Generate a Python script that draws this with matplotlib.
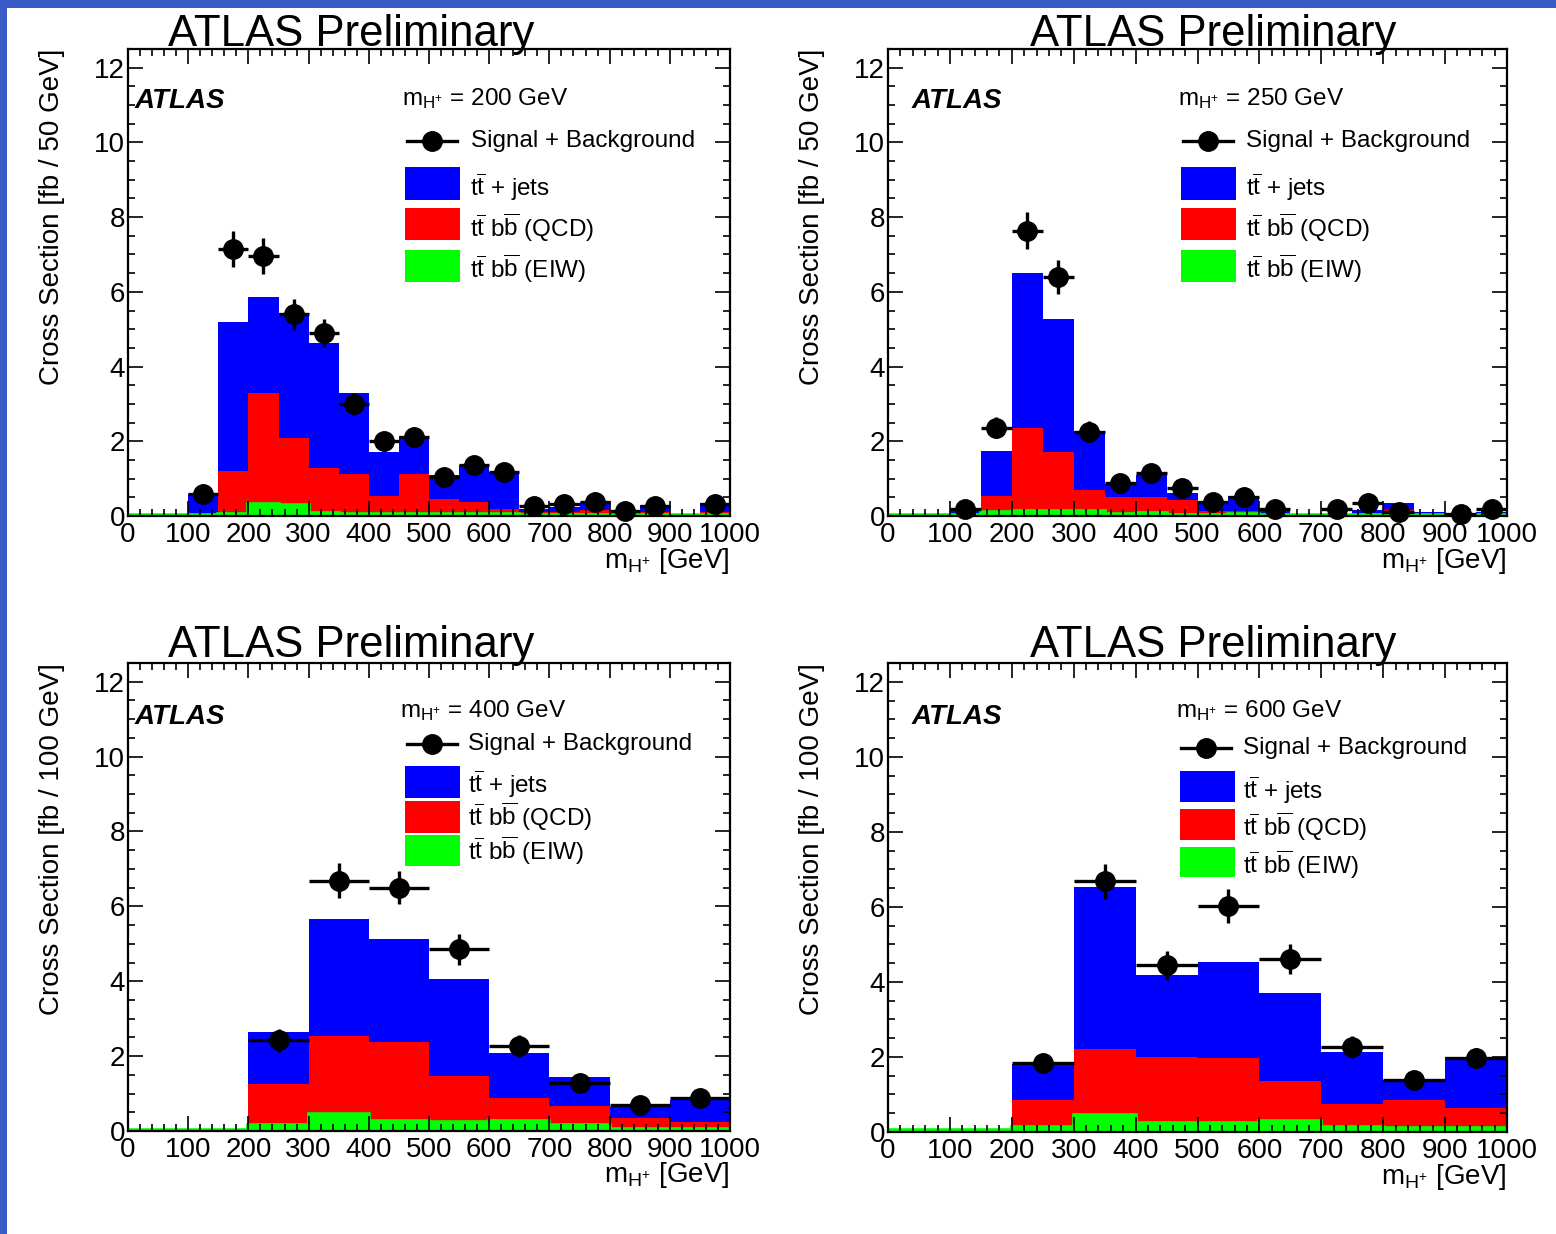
import numpy as np
import matplotlib
matplotlib.use("Agg")
import matplotlib.pyplot as plt
from matplotlib.patches import Rectangle
from matplotlib.lines import Line2D
from matplotlib.ticker import MultipleLocator

plt.rcParams['font.family'] = ['Liberation Sans', 'DejaVu Sans']
plt.rcParams['mathtext.fontset'] = 'custom'
plt.rcParams['mathtext.rm'] = 'Liberation Sans'
plt.rcParams['mathtext.it'] = 'Liberation Sans:italic'
plt.rcParams['mathtext.bf'] = 'Liberation Sans:bold'

W, H = 1556, 1234

# bin edges in GeV
edges_50 = np.arange(0, 1001, 50)
edges_100 = np.arange(0, 1001, 100)

# m(H+) = 200 GeV, 50 GeV bins
ewk_200 = [0.03, 0.03, 0.03, 0.05, 0.31, 0.29, 0.09, 0.05, 0.05, 0.05,
           0.05, 0.06, 0.05, 0.04, 0.04, 0.04, 0.03, 0.04, 0.03, 0.04]
qcd_200 = [0.0, 0.0, 0.02, 1.15, 2.97, 1.80, 1.20, 1.08, 0.49, 1.08,
           0.40, 0.32, 0.13, 0.08, 0.08, 0.11, 0.02, 0.08, 0.0, 0.08]
ttjets_200 = [0.0, 0.0, 0.55, 3.98, 2.57, 3.34, 3.33, 2.17, 1.17, 1.00,
              0.65, 0.98, 1.00, 0.08, 0.13, 0.22, 0.05, 0.18, 0.01, 0.22]
sig_200 = [np.nan, np.nan, 0.58, 7.15, 6.95, 5.40, 4.90, 3.00, 2.00, 2.12,
           1.05, 1.37, 1.18, 0.27, 0.32, 0.37, 0.13, 0.28, np.nan, 0.33]
sig_err_200 = [0, 0, 0.20, 0.48, 0.48, 0.42, 0.38, 0.30, 0.25, 0.26,
               0.18, 0.20, 0.19, 0.09, 0.10, 0.11, 0.06, 0.09, 0, 0.10]

# m(H+) = 250 GeV, 50 GeV bins
ewk_250 = [0.03, 0.03, 0.03, 0.10, 0.13, 0.13, 0.13, 0.06, 0.08, 0.04,
           0.04, 0.05, 0.04, 0.03, 0.03, 0.04, 0.04, 0.04, 0.03, 0.04]
qcd_250 = [0.0, 0.0, 0.02, 0.44, 2.22, 1.57, 0.57, 0.46, 0.44, 0.38,
           0.09, 0.08, 0.03, 0.02, 0.0, 0.04, 0.11, 0.01, 0.0, 0.02]
ttjets_250 = [0.0, 0.0, 0.13, 1.19, 4.15, 3.56, 1.57, 0.33, 0.58, 0.20,
              0.23, 0.40, 0.13, 0.0, 0.0, 0.09, 0.21, 0.07, 0.0, 0.04]
sig_250 = [np.nan, np.nan, 0.18, 2.36, 7.64, 6.39, 2.25, 0.88, 1.15, 0.76,
           0.38, 0.50, 0.19, np.nan, 0.19, 0.35, 0.10, np.nan, 0.05, 0.19]
sig_err_250 = [0, 0, 0.10, 0.28, 0.49, 0.45, 0.28, 0.17, 0.20, 0.16,
               0.12, 0.14, 0.08, 0, 0.08, 0.11, 0.06, 0, 0.04, 0.08]

# m(H+) = 400 GeV, 100 GeV bins
ewk_400 = [0.04, 0.04, 0.16, 0.45, 0.27, 0.24, 0.26, 0.16, 0.06, 0.06]
qcd_400 = [0.0, 0.0, 1.10, 2.10, 2.12, 1.24, 0.63, 0.51, 0.28, 0.19]
ttjets_400 = [0.0, 0.0, 1.38, 3.12, 2.74, 2.58, 1.19, 0.78, 0.31, 0.58]
sig_400 = [np.nan, np.nan, 2.42, 6.68, 6.50, 4.85, 2.27, 1.29, 0.70, 0.88]
sig_err_400 = [0, 0, 0.30, 0.47, 0.45, 0.41, 0.30, 0.22, 0.16, 0.18]

# m(H+) = 600 GeV, 100 GeV bins
ewk_600 = [0.06, 0.06, 0.12, 0.44, 0.23, 0.23, 0.29, 0.12, 0.10, 0.10]
qcd_600 = [0.0, 0.0, 0.74, 1.77, 1.78, 1.73, 1.06, 0.63, 0.76, 0.55]
ttjets_600 = [0.0, 0.0, 0.96, 4.31, 2.17, 2.58, 2.36, 1.38, 0.53, 1.36]
sig_600 = [np.nan, np.nan, 1.83, 6.68, 4.44, 6.02, 4.61, 2.27, 1.39, 1.97]
sig_err_600 = [0, 0, 0.26, 0.47, 0.38, 0.45, 0.40, 0.30, 0.22, 0.27]

x_ticks = np.arange(0, 1001, 100)
y_ticks = np.arange(0, 13, 2)

# layout in pixels: axes box, title, ATLAS label, legend anchor rows
panels = [
    dict(mass=200, edges=edges_50, ewk=ewk_200, qcd=qcd_200, tt=ttjets_200,
         sig=sig_200, err=sig_err_200, ylab='Cross Section [fb / 50 GeV]',
         box=(128, 49, 730, 516), title=(168, 46), atlas=(135, 108),
         mlab=(402, 105), sig_row=(407, 141, 471),
         boxes=(405, [(167, 200), (208, 240), (250, 282)], 470, [196, 237, 278]),
         xlab_y=568),
    dict(mass=250, edges=edges_50, ewk=ewk_250, qcd=qcd_250, tt=ttjets_250,
         sig=sig_250, err=sig_err_250, ylab='Cross Section [fb / 50 GeV]',
         box=(888, 49, 1507, 516), title=(1030, 46), atlas=(912, 108),
         mlab=(1178, 105), sig_row=(1183, 141, 1246),
         boxes=(1181, [(167, 200), (208, 240), (250, 282)], 1246, [196, 237, 278]),
         xlab_y=568),
    dict(mass=400, edges=edges_100, ewk=ewk_400, qcd=qcd_400, tt=ttjets_400,
         sig=sig_400, err=sig_err_400, ylab='Cross Section [fb / 100 GeV]',
         box=(128, 663, 730, 1131), title=(168, 657), atlas=(135, 724),
         mlab=(400, 717), sig_row=(407, 744, 468),
         boxes=(405, [(766, 798), (801, 833), (835, 866)], 468, [793, 826, 860]),
         xlab_y=1182),
    dict(mass=600, edges=edges_100, ewk=ewk_600, qcd=qcd_600, tt=ttjets_600,
         sig=sig_600, err=sig_err_600, ylab='Cross Section [fb / 100 GeV]',
         box=(888, 663, 1507, 1132), title=(1030, 657), atlas=(912, 724),
         mlab=(1176, 717), sig_row=(1181, 748, 1243),
         boxes=(1180, [(771, 802), (809, 840), (847, 877)], 1243, [799, 836, 874]),
         xlab_y=1184),
]

BLUE, RED, GREEN = '#0000ff', '#ff0000', '#00ff00'
proc_colors = [BLUE, RED, GREEN]
proc_labels = [r'$\mathrm{t\overline{t}}$ + jets',
               r'$\mathrm{t\overline{t}\ b\overline{b}}$ (QCD)',
               r'$\mathrm{t\overline{t}\ b\overline{b}}$ (EIW)']


def fx(x):
    return x / W


def fy(y):
    return 1 - y / H


fig = plt.figure(figsize=(W / 100, H / 100), dpi=100)

# window frame strips
fig.add_artist(Rectangle((0, 0), fx(7), 1, transform=fig.transFigure,
                         color='#3a5bc6', lw=0))
fig.add_artist(Rectangle((0, fy(8)), 1, fy(0) - fy(8), transform=fig.transFigure,
                         color='#3a5bc6', lw=0))

for p in panels:
    x0, y0, x1, y1 = p['box']
    ax = fig.add_axes([fx(x0), fy(y1), (x1 - x0) / W, (y1 - y0) / H])

    edges = p['edges']
    ewk = np.array(p['ewk'])
    qcd = np.array(p['qcd'])
    tt = np.array(p['tt'])
    # stacked: ewk at the bottom, then QCD, then tt+jets
    ax.stairs(ewk + qcd + tt, edges, fill=True, color=BLUE, lw=0)
    ax.stairs(ewk + qcd, edges, fill=True, color=RED, lw=0)
    ax.stairs(ewk, edges, fill=True, facecolor=GREEN, edgecolor=GREEN, lw=2.6)

    centers = 0.5 * (edges[:-1] + edges[1:])
    half = 0.5 * np.diff(edges)
    sig = np.array(p['sig'])
    err = np.array(p['err'])
    ok = ~np.isnan(sig)
    ax.errorbar(centers[ok], sig[ok], xerr=half[ok], yerr=err[ok], fmt='o',
                color='black', ms=14, elinewidth=2.4, capsize=0, clip_on=False,
                zorder=4)

    ax.set_xlim(0, 1000)
    ax.set_ylim(0, 12.5)
    ax.set_xticks(x_ticks)
    ax.set_yticks(y_ticks)
    ax.xaxis.set_minor_locator(MultipleLocator(20))
    ax.yaxis.set_minor_locator(MultipleLocator(0.5))
    ax.tick_params(which='both', direction='in', top=True, right=True,
                   width=1.2, labelsize=20)
    ax.tick_params(which='major', length=10.5)
    ax.tick_params(which='minor', length=5)
    ax.tick_params(axis='x', pad=4)
    ax.tick_params(axis='y', pad=2)
    for s in ax.spines.values():
        s.set_linewidth(1.6)

    fig.text(fx(x0 - 76), fy(y0), p['ylab'], rotation=90, ha='center',
             va='top', fontsize=20)
    fig.text(fx(x1), fy(p['xlab_y']), r'$\mathrm{m_{H^{+}}}$ [GeV]',
             ha='right', va='baseline', fontsize=20)
    fig.text(fx(p['title'][0]), fy(p['title'][1]), 'ATLAS Preliminary',
             ha='left', va='baseline', fontsize=31.5)
    fig.text(fx(p['atlas'][0]), fy(p['atlas'][1]), 'ATLAS', ha='left',
             va='baseline', fontsize=20, fontweight='bold', fontstyle='italic')
    fig.text(fx(p['mlab'][0]), fy(p['mlab'][1]),
             r'$\mathrm{m_{H^{+}}}$ = %d GeV' % p['mass'],
             ha='left', va='baseline', fontsize=17.5)

    # legend: signal + background entry
    lx, ly, tx = p['sig_row']
    fig.add_artist(Line2D([fx(lx), fx(lx + 50)], [fy(ly), fy(ly)],
                          transform=fig.transFigure, color='black', lw=2.4))
    fig.add_artist(Line2D([fx(lx + 25)], [fy(ly)], transform=fig.transFigure,
                          marker='o', ms=14, color='black', lw=0))
    fig.text(fx(tx), fy(ly), 'Signal + Background', ha='left', va='center',
             fontsize=17.5)

    # legend: filled process boxes
    bx, rows, btx, baselines = p['boxes']
    for (ry0, ry1), base, col, lab in zip(rows, baselines, proc_colors, proc_labels):
        fig.add_artist(Rectangle((fx(bx), fy(ry1)), 55 / W, (ry1 - ry0) / H,
                                 transform=fig.transFigure, color=col, lw=0))
        fig.text(fx(btx), fy(base), lab, ha='left', va='baseline', fontsize=17.5)

fig.savefig('out.png', dpi=100)
